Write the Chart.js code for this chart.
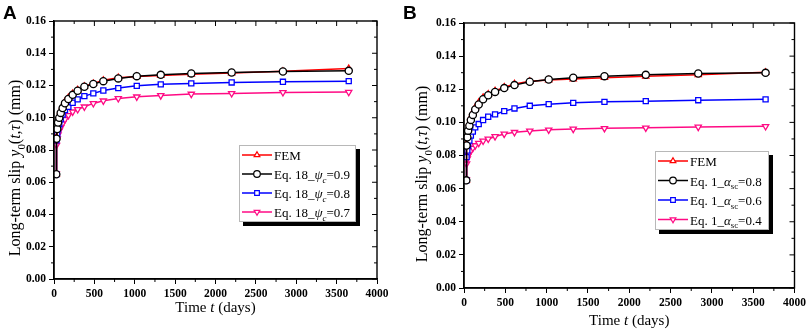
<!DOCTYPE html>
<html lang="en">
<head>
  <meta charset="UTF-8">
  <title>Long-term slip</title>
  <script src="https://cdn.jsdelivr.net/npm/chart.js"></script>
  <style>
    body { margin: 0; background: #fff; width: 809px; height: 331px; overflow: hidden; position: relative; }
    .panel { position: absolute; top: 0; height: 331px; }
    #panelA { left: 0; width: 400px; }
    #panelB { left: 400px; width: 409px; }
  </style>
</head>
<body>
  <div class="panel" id="panelA"><canvas id="chartA"></canvas></div>
  <div class="panel" id="panelB"><canvas id="chartB"></canvas></div>

  <script>
    // time points (days), same in both panels
    const timeDays = [28, 31, 40, 50, 65, 83, 107, 136, 178, 231, 293, 376, 487, 611, 796, 1025, 1322, 1700, 2200, 2835, 3650];

    // panel A
    const femA      = [0.065, 0.088, 0.094, 0.098, 0.101, 0.104, 0.107, 0.110, 0.1125, 0.115, 0.1172, 0.1195, 0.1212, 0.1232, 0.1248, 0.1256, 0.1262, 0.1270, 0.1277, 0.1288, 0.1305];
    const eq18Psi09 = [0.065, 0.087, 0.093, 0.097, 0.100, 0.103, 0.106, 0.109, 0.1116, 0.1142, 0.1167, 0.1192, 0.1209, 0.1227, 0.1244, 0.1258, 0.1266, 0.1275, 0.1281, 0.1287, 0.1291];
    const eq18Psi08 = [0.065, 0.086, 0.090, 0.093, 0.096, 0.099, 0.102, 0.1048, 0.1068, 0.1093, 0.1114, 0.1134, 0.1151, 0.1169, 0.1184, 0.1198, 0.1207, 0.1213, 0.1219, 0.1223, 0.1227];
    const eq18Psi07 = [0.0655, 0.083, 0.087, 0.0895, 0.092, 0.094, 0.0965, 0.099, 0.1015, 0.1037, 0.1052, 0.1068, 0.1089, 0.1105, 0.1120, 0.1130, 0.1138, 0.1147, 0.1151, 0.1157, 0.1159];

    // panel B
    const femB        = [0.065, 0.087, 0.092, 0.096, 0.0995, 0.103, 0.106, 0.109, 0.112, 0.115, 0.117, 0.119, 0.1212, 0.1232, 0.1248, 0.1256, 0.1262, 0.1270, 0.1278, 0.1288, 0.1302];
    const eq1Alpha08  = [0.065, 0.086, 0.091, 0.095, 0.098, 0.1015, 0.1045, 0.1078, 0.1108, 0.1140, 0.1164, 0.1184, 0.1207, 0.1225, 0.1245, 0.1259, 0.1269, 0.1279, 0.1287, 0.1295, 0.1299];
    const eq1Alpha06  = [0.065, 0.079, 0.083, 0.086, 0.089, 0.092, 0.0945, 0.097, 0.099, 0.1014, 0.1034, 0.1048, 0.1068, 0.1084, 0.1100, 0.1110, 0.1118, 0.1124, 0.1128, 0.1134, 0.1139];
    const eq1Alpha04  = [0.0655, 0.075, 0.078, 0.080, 0.0815, 0.083, 0.0845, 0.086, 0.0875, 0.0888, 0.0900, 0.0915, 0.0930, 0.0940, 0.0948, 0.0955, 0.0960, 0.0964, 0.0967, 0.0972, 0.0976];

    const SERIF = "'Liberation Serif', 'DejaVu Serif', serif";
    const RED = "#ff0000", BLACK = "#000000", BLUE = "#0000ff", PINK = "#ff0a84";

    function pts(vals) {
      return timeDays.map((t, i) => ({ x: t, y: vals[i] }));
    }

    function series(label, vals, color, style, rot, order) {
      return {
        label: label,
        data: pts(vals),
        borderColor: color,
        backgroundColor: "#ffffff",
        borderWidth: 1.5,
        pointStyle: style,
        pointRotation: rot,
        pointRadius: 3.6,
        pointBorderWidth: 1.3,
        pointBorderColor: color,
        pointBackgroundColor: "#ffffff",
        tension: 0,
        order: order
      };
    }

    // rich text: parts = [[text, style]], style n | i | sub | isub
    function fontFor(style, size) {
      const s = (style === "sub" || style === "isub") ? size * 0.68 : size;
      const it = (style === "i" || style === "isub") ? "italic " : "";
      return it + s + "px " + SERIF;
    }
    function richWidth(ctx, parts, size) {
      let w = 0;
      parts.forEach(p => {
        ctx.font = fontFor(p[1], size);
        w += ctx.measureText(p[0]).width;
      });
      return w;
    }
    function drawRich(ctx, parts, x, y, size) {
      ctx.textBaseline = "alphabetic";
      ctx.textAlign = "left";
      parts.forEach(p => {
        ctx.font = fontFor(p[1], size);
        const dy = (p[1] === "sub" || p[1] === "isub") ? size * 0.3 : 0;
        ctx.fillText(p[0], x, y + dy);
        x += ctx.measureText(p[0]).width;
      });
    }

    const yTitle = [["Long-term slip ", "n"], ["y", "i"], ["0", "sub"], ["(", "n"], ["t", "i"], [",", "n"], ["τ", "i"], [") (mm)", "n"]];
    const xTitle = [["Time ", "n"], ["t", "i"], [" (days)", "n"]];

    const decor = {
      id: "decor",
      afterDraw(chart, args, o) {
        const ctx = chart.ctx;
        const a = chart.chartArea;
        const xs = chart.scales.x, ys = chart.scales.y;
        ctx.save();
        ctx.strokeStyle = "#000";
        ctx.fillStyle = "#000";

        // frame
        ctx.lineWidth = 1.4;
        ctx.strokeRect(a.left, a.top, a.right - a.left, a.bottom - a.top);

        // minor ticks outside on left/bottom, all ticks inside on top/right
        ctx.lineWidth = 1;
        ctx.beginPath();
        for (let v = 0; v <= 4000; v += 250) {
          const px = xs.getPixelForValue(v);
          const major = v % 500 === 0;
          const len = major ? 5 : 3;
          if (!major) { ctx.moveTo(px, a.bottom); ctx.lineTo(px, a.bottom + len); }
          ctx.moveTo(px, a.top); ctx.lineTo(px, a.top + len);
        }
        for (let k = 0; k <= 16; k++) {
          const py = ys.getPixelForValue(k * 0.01);
          const major = k % 2 === 0;
          const len = major ? 5 : 3;
          if (!major) { ctx.moveTo(a.left, py); ctx.lineTo(a.left - len, py); }
          ctx.moveTo(a.right, py); ctx.lineTo(a.right - len, py);
        }
        ctx.stroke();

        // panel letter
        ctx.font = "bold 19px 'Liberation Sans', Arial, sans-serif";
        ctx.textAlign = "left";
        ctx.textBaseline = "alphabetic";
        ctx.fillText(o.letter, 3, 19);

        // axis titles
        const xw = richWidth(ctx, xTitle, 15);
        drawRich(ctx, xTitle, (a.left + a.right) / 2 - xw / 2, o.xTitleY, 15);
        const yw = richWidth(ctx, yTitle, 16);
        ctx.save();
        ctx.translate(o.yTitleX, o.yTitleMid);
        ctx.rotate(-Math.PI / 2);
        drawRich(ctx, yTitle, -yw / 2, 5, 16);
        ctx.restore();

        // legend box with black drop shadow
        const L = o.legend;
        ctx.fillStyle = "#000";
        ctx.fillRect(L.x + 4, L.y + 4, L.w, L.h);
        ctx.fillStyle = "#fff";
        ctx.fillRect(L.x, L.y, L.w, L.h);
        ctx.strokeStyle = "#b8b8b8";
        ctx.lineWidth = 1;
        ctx.strokeRect(L.x + 0.5, L.y + 0.5, L.w - 1, L.h - 1);
        chart.data.datasets.forEach((ds, n) => {
          const cy = L.y + L.first + n * L.step;
          ctx.strokeStyle = ds.borderColor;
          ctx.lineWidth = 1.5;
          ctx.beginPath();
          ctx.moveTo(L.x + 3, cy); ctx.lineTo(L.x + 33, cy);
          ctx.stroke();
          ctx.fillStyle = "#fff";
          ctx.lineWidth = 1.2;
          Chart.helpers.drawPoint(ctx, {
            pointStyle: ds.pointStyle, rotation: ds.pointRotation, radius: 3.3, borderWidth: 1.2
          }, L.x + 18, cy);
          ctx.fillStyle = "#000";
          drawRich(ctx, o.labels[n], L.x + 35, cy + 5, 13);
        });
        ctx.restore();
      }
    };

    function makeChart(id, sets, opt) {
      return new Chart(document.getElementById(id), {
        type: "line",
        data: { datasets: sets },
        plugins: [decor],
        options: {
          responsive: true,
          maintainAspectRatio: false,
          animation: false,
          layout: { padding: { left: 0, top: opt.top, right: opt.right, bottom: 0 } },
          plugins: {
            legend: { display: false },
            tooltip: { enabled: false },
            decor: opt.decor
          },
          scales: {
            x: {
              type: "linear", min: 0, max: 4000,
              ticks: { stepSize: 500, color: "#000", padding: 3, maxRotation: 0,
                       callback: v => String(v),
                       font: { family: SERIF, weight: "bold", size: 11.5 } },
              grid: { drawOnChartArea: false, tickLength: 5, color: "#000" },
              border: { color: "#000", width: 1.4 },
              afterFit(s) { s.height = opt.xh; }
            },
            y: {
              min: 0, max: 0.16,
              ticks: { stepSize: 0.02, color: "#000", padding: 3,
                       callback: v => v.toFixed(2),
                       font: { family: SERIF, weight: "bold", size: 11.5 } },
              grid: { drawOnChartArea: false, tickLength: 5, color: "#000" },
              border: { color: "#000", width: 1.4 },
              afterFit(s) { s.width = opt.yw; }
            }
          }
        }
      });
    }

    makeChart("chartA", [
      series("FEM", femA, RED, "triangle", 0, 1),
      series("Eq. 18_psi_c=0.9", eq18Psi09, BLACK, "circle", 0, 0),
      series("Eq. 18_psi_c=0.8", eq18Psi08, BLUE, "rect", 0, 2),
      series("Eq. 18_psi_c=0.7", eq18Psi07, PINK, "triangle", 180, 3)
    ], {
      top: 21, right: 23, xh: 52, yw: 54,
      decor: {
        letter: "A", xTitleY: 312, yTitleX: 15, yTitleMid: 168,
        legend: { x: 239, y: 145, w: 117, h: 77, first: 10, step: 19 },
        labels: [
          [["FEM", "n"]],
          [["Eq. 18_", "n"], ["ψ", "i"], ["c", "isub"], ["=0.9", "n"]],
          [["Eq. 18_", "n"], ["ψ", "i"], ["c", "isub"], ["=0.8", "n"]],
          [["Eq. 18_", "n"], ["ψ", "i"], ["c", "isub"], ["=0.7", "n"]]
        ]
      }
    });

    makeChart("chartB", [
      series("FEM", femB, RED, "triangle", 0, 1),
      series("Eq. 1_alpha_sc=0.8", eq1Alpha08, BLACK, "circle", 0, 0),
      series("Eq. 1_alpha_sc=0.6", eq1Alpha06, BLUE, "rect", 0, 2),
      series("Eq. 1_alpha_sc=0.4", eq1Alpha04, PINK, "triangle", 180, 3)
    ], {
      top: 23, right: 13, xh: 43, yw: 64,
      decor: {
        letter: "B", xTitleY: 325, yTitleX: 22, yTitleMid: 174,
        legend: { x: 255, y: 151, w: 114, h: 79, first: 10, step: 19.5 },
        labels: [
          [["FEM", "n"]],
          [["Eq. 1_", "n"], ["α", "i"], ["sc", "sub"], ["=0.8", "n"]],
          [["Eq. 1_", "n"], ["α", "i"], ["sc", "sub"], ["=0.6", "n"]],
          [["Eq. 1_", "n"], ["α", "i"], ["sc", "sub"], ["=0.4", "n"]]
        ]
      }
    });
  </script>
</body>
</html>
